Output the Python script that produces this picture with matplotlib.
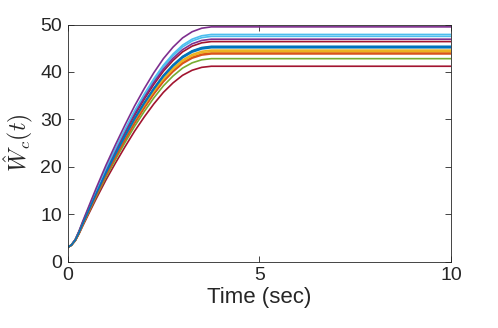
import matplotlib
matplotlib.use("Agg")
import matplotlib.pyplot as plt
import numpy as np

# time samples and the common rise profile (0 -> 1)
t = [0, 0.1, 0.2, 0.3, 0.4, 0.5, 0.6, 0.75, 1.0, 1.25, 1.5, 1.75, 2.0,
     2.25, 2.5, 2.75, 3.0, 3.25, 3.5, 3.75, 4.0, 5.0, 10.0]
shape = [0, 0.012, 0.036, 0.075, 0.12, 0.163, 0.206, 0.27, 0.372, 0.466,
         0.556, 0.642, 0.72, 0.792, 0.856, 0.908, 0.95, 0.978, 0.994, 1.0,
         1.0, 1.0, 1.0]
w0 = 3.0
# final weight values, one per curve (MATLAB colour order)
w_final = [45.1, 43.8, 44.3, 49.5, 42.8, 47.9, 41.2,
           45.4, 44.0, 44.6, 46.9, 45.3, 47.5, 46.4]

colors = ['#0072BD', '#D95319', '#EDB120', '#7E2F8E', '#77AC30', '#4DBEEE', '#A2142F']

plt.rcParams['font.family'] = ['Liberation Sans', 'DejaVu Sans']
plt.rcParams['mathtext.fontset'] = 'cm'

fig = plt.figure(figsize=(4.98, 3.28), dpi=100)
ax = fig.add_axes([0.1356, 0.2021, 0.77, 0.7232])

tt = np.array(t)
sh = np.array(shape)
# draw in reverse so the first (blue) curve ends up on top near t=0
for i in reversed(range(len(w_final))):
    ax.plot(tt, w0 + (w_final[i] - w0) * sh, color=colors[i % 7], lw=1.2)

ax.set_xlim(0, 10)
ax.set_ylim(0, 50)
ax.set_xticks([0, 5, 10])
ax.set_yticks([0, 10, 20, 30, 40, 50])
ax.tick_params(direction='in', length=4, width=0.6, colors='#262626',
               labelsize=14, top=True, right=True, pad=4)
for s in ax.spines.values():
    s.set_color('#262626')
    s.set_linewidth(0.6)
ax.set_xlabel('Time (sec)', fontsize=16, color='#262626', labelpad=2)
ax.set_ylabel(r'$\hat{W}_c(t)$', fontsize=17, color='#262626', labelpad=4)

fig.savefig('out.png', dpi=100)
